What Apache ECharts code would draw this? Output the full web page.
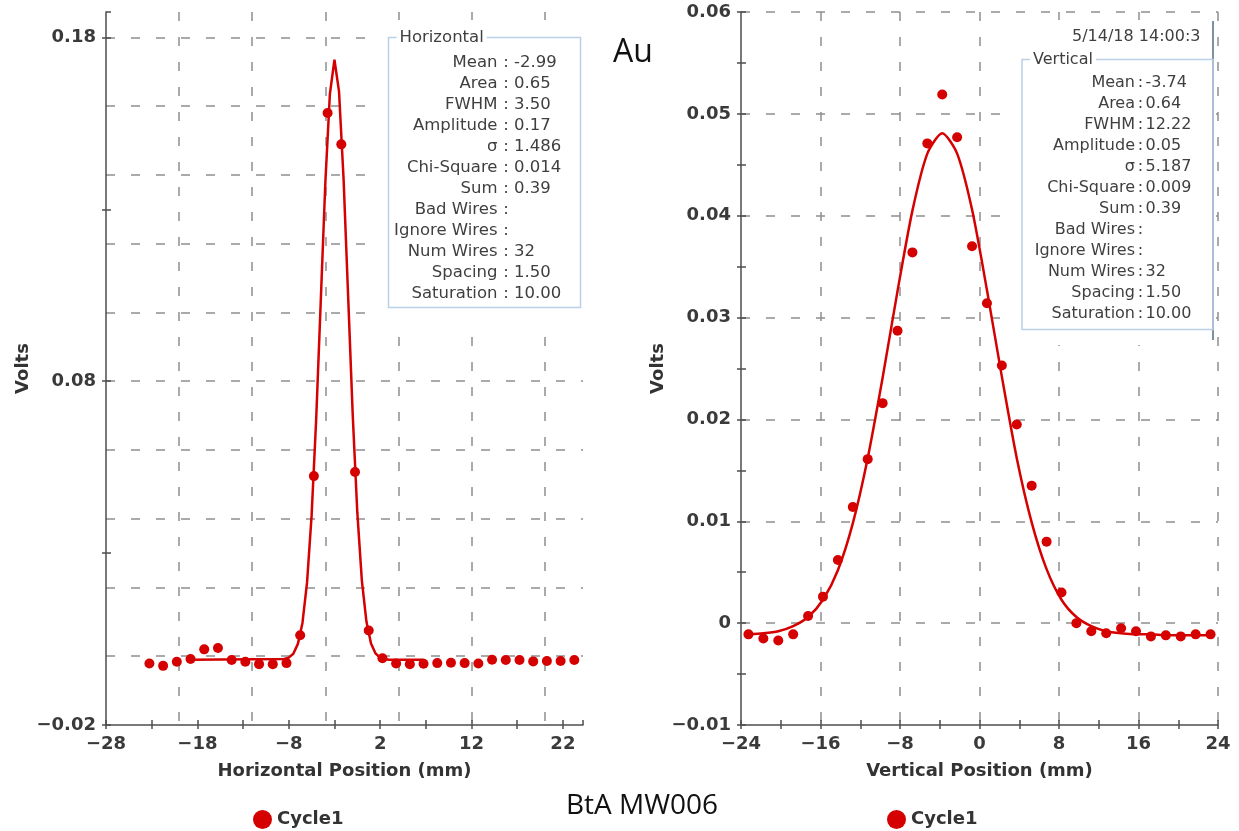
<!DOCTYPE html>
<html>
<head>
<meta charset="utf-8">
<title>BtA MW006</title>
<script src="https://cdn.jsdelivr.net/npm/echarts@6/dist/echarts.min.js"></script>
<style>
  html, body { margin: 0; padding: 0; background: #ffffff; }
  #chart { width: 1239px; height: 831px; }
</style>
</head>
<body>
<div id="chart"></div>
<script>
// Wire positions (mm), 32 wires at 1.5 mm spacing
const wirePositions = [
  -23.25, -21.75, -20.25, -18.75, -17.25, -15.75, -14.25, -12.75,
  -11.25, -9.75, -8.25, -6.75, -5.25, -3.75, -2.25, -0.75,
  0.75, 2.25, 3.75, 5.25, 6.75, 8.25, 9.75, 11.25,
  12.75, 14.25, 15.75, 17.25, 18.75, 20.25, 21.75, 23.25
];

// Measured wire signals (V), Cycle1
const horizontalVolts = [
  -0.0021, -0.0028, -0.0016, -0.0008, 0.0020, 0.0024, -0.0011, -0.0016,
  -0.0023, -0.0023, -0.0020, 0.0061, 0.0524, 0.1580, 0.1489, 0.0536,
  0.0075, -0.0006, -0.0021, -0.0023, -0.0022, -0.0020, -0.0019, -0.0020,
  -0.0021, -0.0010, -0.0011, -0.0011, -0.0015, -0.0014, -0.0014, -0.0011
];
const verticalVolts = [
  -0.0011, -0.0015, -0.0017, -0.0011, 0.0007, 0.0026, 0.0062, 0.0114,
  0.0161, 0.0216, 0.0287, 0.0364, 0.0471, 0.0519, 0.0477, 0.0370,
  0.0314, 0.0253, 0.0195, 0.0135, 0.0080, 0.0030, 0.0000, -0.0008,
  -0.0010, -0.0005, -0.0008, -0.0013, -0.0012, -0.0013, -0.0011, -0.0011
];

// Gaussian fit curves
const horizontalFitX = [
  -18.75, -8.5, -8, -7.5, -7, -6.5, -6, -5.5, -5, -4.5, -4, -3.5, -3,
  -2.5, -2, -1.5, -1, -0.5, 0, 0.5, 1, 1.5, 2, 2.5, 3, 6.75
];
const horizontalFitVolts = [
  -0.0010, -0.0008, -0.0004, 0.0007, 0.0036, 0.0097, 0.0214, 0.0409, 0.0689,
  0.1032, 0.1376, 0.1635, 0.1735, 0.1643, 0.1388, 0.1046, 0.0702, 0.0419,
  0.0220, 0.0101, 0.0037, 0.0008, -0.0004, -0.0008, -0.0010, -0.0010
];
const verticalFitVolts = [
  -0.0011, -0.0010, -0.0008, -0.0003, 0.0006, 0.0023, 0.0052, 0.0098,
  0.0162, 0.0241, 0.0326, 0.0405, 0.0461, 0.0481, 0.0461, 0.0406,
  0.0327, 0.0242, 0.0162, 0.0099, 0.0053, 0.0023, 0.0006, -0.0003,
  -0.0008, -0.0010, -0.0011, -0.0011, -0.0012, -0.0012, -0.0012, -0.0012
];

// Fit statistics panels
const statLabels = [
  'Mean', 'Area', 'FWHM', 'Amplitude', '\u03c3', 'Chi-Square', 'Sum',
  'Bad Wires', 'Ignore Wires', 'Num Wires', 'Spacing', 'Saturation'
];
const horizontalStats = ['-2.99', '0.65', '3.50', '0.17', '1.486', '0.014', '0.39', '', '', '32', '1.50', '10.00'];
const verticalStats = ['-3.74', '0.64', '12.22', '0.05', '5.187', '0.009', '0.39', '', '', '32', '1.50', '10.00'];

const RED = '#d50000';
const AXIS_COLOR = '#4d4d4d';
const GRID_COLOR = '#8e8e8e';
const BOLD = { fontFamily: 'DejaVu Sans', fontWeight: 'bold', fontSize: 18, color: '#3a3a3a' };

function pairs(xs, ys) { return xs.map((x, i) => [x, ys[i]]); }
function signed(s) { return s.replace('-', '\u2212'); }

// label only every second tick, counted from the axis minimum
function everyOther(min, step, fmt) {
  return function (v) {
    const k = (v - min) / step;
    const r = Math.round(k);
    if (Math.abs(k - r) > 1e-6 || r % 2 !== 0) return '';
    return signed(fmt(v));
  };
}

// three stacked axes per direction: dashed grid, outer ticks + labels, inner ticks
function axisSet(dir, gridIndex, min, max, gridStep, tickStep, formatter, name, nameGap, maxOnTick) {
  const position = dir === 'x' ? 'bottom' : 'left';
  const base = { type: 'value', gridIndex, min, max, position, offset: 0 };
  return [
    Object.assign({}, base, {
      interval: gridStep,
      axisLine: { show: false, onZero: false },
      axisTick: { show: false },
      axisLabel: { show: false },
      splitLine: {
        show: true, showMinLine: false, showMaxLine: maxOnTick,
        lineStyle: { color: GRID_COLOR, width: 1.5, type: [9, 16] }
      }
    }),
    Object.assign({}, base, {
      interval: tickStep,
      axisLine: { show: true, onZero: false, lineStyle: { color: AXIS_COLOR, width: 1.5 } },
      axisTick: { show: true, inside: false, length: 4, lineStyle: { color: AXIS_COLOR, width: 1.5 } },
      axisLabel: Object.assign({ margin: 10, formatter, showMinLabel: true, showMaxLabel: maxOnTick }, BOLD),
      splitLine: { show: false },
      name, nameLocation: 'middle', nameGap,
      nameTextStyle: Object.assign({}, BOLD, { color: '#333333' })
    }),
    Object.assign({}, base, {
      interval: tickStep,
      axisLine: { show: false, onZero: false },
      axisTick: { show: true, inside: true, length: 5, lineStyle: { color: AXIS_COLOR, width: 1.5 } },
      axisLabel: { show: false },
      splitLine: { show: false }
    })
  ];
}

const xAxes = [].concat(
  axisSet('x', 0, -28, 24.2, 8, 5, everyOther(-28, 5, v => v.toFixed(0)), 'Horizontal Position (mm)', 37, false),
  axisSet('x', 1, -24, 24, 8, 4, everyOther(-24, 4, v => v.toFixed(0)), 'Vertical Position (mm)', 37, true)
);
const yAxes = [].concat(
  axisSet('y', 0, -0.02, 0.1874, 0.02, 0.05, everyOther(-0.02, 0.05, v => v.toFixed(2)), 'Volts', 74, false),
  axisSet('y', 1, -0.01, 0.06, 0.01, 0.005,
    everyOther(-0.01, 0.005, v => (Math.abs(v) < 1e-9 ? '0' : v.toFixed(2))), 'Volts', 74, true)
);

// overlay elements live on their own layer above the plot
function overlay(el) { el.zlevel = 1; el.silent = true; return el; }

// statistics panel drawn with graphic elements
function statPanel(title, values, box, rowTop, labelEnd, colonX, valueX, fontSize) {
  const font = { fontFamily: 'DejaVu Sans', fontSize, fill: '#3f3f3f' };
  const els = [
    { type: 'rect', z: 2,
      shape: { x: box.x, y: box.y, width: box.w, height: box.h },
      style: { fill: 'none', stroke: '#b9d0e8', lineWidth: 1.5 } },
    { type: 'text', z: 3, x: box.x + 8, y: box.y,
      style: Object.assign({ text: title, align: 'left', verticalAlign: 'middle',
        backgroundColor: '#ffffff', padding: [0, 3] }, font) }
  ];
  statLabels.forEach((lab, i) => {
    const y = rowTop + i * 21;
    els.push({ type: 'text', z: 3, x: labelEnd, y,
      style: Object.assign({ text: lab, align: 'right', verticalAlign: 'middle' }, font) });
    els.push({ type: 'text', z: 3, x: colonX, y,
      style: Object.assign({ text: ':', align: 'center', verticalAlign: 'middle' }, font) });
    if (values[i]) {
      els.push({ type: 'text', z: 3, x: valueX, y,
        style: Object.assign({ text: values[i], align: 'left', verticalAlign: 'middle' }, font) });
    }
  });
  return els;
}

const graphics = [
  // white panels holding the statistics
  { type: 'rect', z: 1, shape: { x: 373, y: 20, width: 227, height: 302 }, style: { fill: '#ffffff' } },
  { type: 'rect', z: 1, shape: { x: 1006, y: 20, width: 207, height: 325 }, style: { fill: '#ffffff' } },
  { type: 'line', z: 2, shape: { x1: 1213, y1: 21, x2: 1213, y2: 340 },
    style: { stroke: '#7e8fa6', lineWidth: 2 } },
  { type: 'text', z: 3, x: 1072, y: 37,
    style: { text: '5/14/18 14:00:3', fontFamily: 'DejaVu Sans', fontSize: 16, fill: '#3f3f3f',
      align: 'left', verticalAlign: 'middle' } },
  { type: 'text', z: 3, x: 613, y: 53,
    style: { text: 'Au', fontFamily: 'Open Sans', fontSize: 32, fill: '#111111',
      align: 'left', verticalAlign: 'middle' } },
  { type: 'text', z: 3, x: 566, y: 806,
    style: { text: 'BtA MW006', fontFamily: 'Open Sans', fontSize: 28, fill: '#111111',
      align: 'left', verticalAlign: 'middle' } }
].concat(
  statPanel('Horizontal', horizontalStats, { x: 388.5, y: 37.5, w: 192, h: 270 }, 62.3, 497.5, 506, 514, 16.5),
  statPanel('Vertical', verticalStats, { x: 1022, y: 59.5, w: 191, h: 270 }, 83.3, 1135, 1140.5, 1145.5, 16)
).map(overlay);

const legendBase = {
  data: ['Cycle1'], top: 810, padding: 0, itemWidth: 19, itemHeight: 19, itemGap: 5,
  icon: 'circle', selectedMode: false,
  textStyle: { fontFamily: 'DejaVu Sans', fontWeight: 'bold', fontSize: 18, color: '#333333' }
};

const option = {
  animation: false,
  backgroundColor: '#ffffff',
  grid: [
    { left: 106, top: 12, width: 477, height: 713, containLabel: false, outerBoundsMode: 'none' },
    { left: 741, top: 12, width: 477, height: 713, containLabel: false, outerBoundsMode: 'none' }
  ],
  xAxis: xAxes,
  yAxis: yAxes,
  legend: [
    Object.assign({}, legendBase, { left: 253 }),
    Object.assign({}, legendBase, { left: 887 })
  ],
  graphic: { elements: graphics },
  series: [
    { type: 'line', name: 'Horizontal fit', xAxisIndex: 0, yAxisIndex: 0,
      data: pairs(horizontalFitX, horizontalFitVolts), symbol: 'none', silent: true, z: 2,
      lineStyle: { color: RED, width: 2.5 }, itemStyle: { color: RED } },
    { type: 'scatter', name: 'Cycle1', xAxisIndex: 0, yAxisIndex: 0,
      data: pairs(wirePositions, horizontalVolts), symbol: 'circle', symbolSize: 10, z: 3,
      itemStyle: { color: RED, opacity: 1 } },
    { type: 'line', name: 'Vertical fit', xAxisIndex: 3, yAxisIndex: 3,
      data: pairs(wirePositions, verticalFitVolts), symbol: 'none', silent: true, z: 2,
      smooth: 0.25,
      lineStyle: { color: RED, width: 2.5 }, itemStyle: { color: RED } },
    { type: 'scatter', name: 'Cycle1', xAxisIndex: 3, yAxisIndex: 3,
      data: pairs(wirePositions, verticalVolts), symbol: 'circle', symbolSize: 10, z: 3,
      itemStyle: { color: RED, opacity: 1 } }
  ]
};

const chart = echarts.init(document.getElementById('chart'), null, { renderer: 'canvas' });
chart.setOption(option);
</script>
</body>
</html>
